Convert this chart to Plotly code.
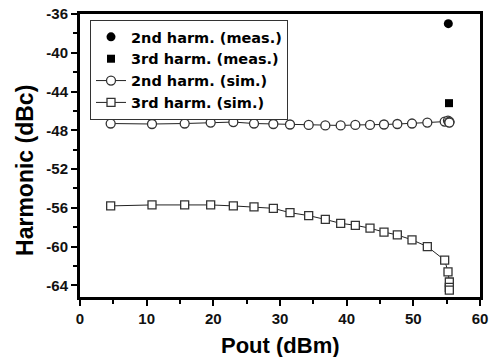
import plotly.graph_objects as go

# Simulated data (Pout in dBm)
x_sim = [4.6, 10.8, 15.7, 19.6, 23.0, 26.1, 29.0, 31.5, 34.3, 36.8, 39.1, 41.3,
         43.5, 45.6, 47.6, 49.8, 52.1, 54.7, 55.2, 55.4, 55.4, 55.4]
h2_sim = [-47.3, -47.35, -47.3, -47.2, -47.15, -47.3, -47.35, -47.4, -47.45, -47.5, -47.5, -47.45,
          -47.45, -47.4, -47.35, -47.3, -47.2, -47.1, -47.0, -47.1, -47.15, -47.2]
h3_sim = [-55.8, -55.7, -55.7, -55.7, -55.8, -55.9, -56.05, -56.5, -56.8, -57.2, -57.6, -57.8,
          -58.1, -58.5, -58.8, -59.3, -60.0, -61.4, -62.6, -63.65, -64.2, -64.5]

# Measured data
x_meas2 = [55.25]
h2_meas = [-37.0]
x_meas3 = [55.35]
h3_meas = [-45.2]

x_ticks = [0, 10, 20, 30, 40, 50, 60]
y_ticks = [-36, -40, -44, -48, -52, -56, -60, -64]

x_title = "Pout (dBm)"
y_title = "Harmonic (dBc)"

FONT = "Liberation Sans"

fig = go.Figure()
fig.add_trace(go.Scatter(x=x_meas2, y=h2_meas, mode="markers", name="2nd harm. (meas.)",
                         marker=dict(symbol="circle", size=9, color="black")))
fig.add_trace(go.Scatter(x=x_meas3, y=h3_meas, mode="markers", name="3rd harm. (meas.)",
                         marker=dict(symbol="square", size=8, color="black")))
fig.add_trace(go.Scatter(x=x_sim, y=h2_sim, mode="lines+markers", name="2nd harm. (sim.)",
                         line=dict(color="#222222", width=1),
                         marker=dict(symbol="circle", size=9, color="white",
                                     line=dict(color="#333333", width=1.3))))
fig.add_trace(go.Scatter(x=x_sim, y=h3_sim, mode="lines+markers", name="3rd harm. (sim.)",
                         line=dict(color="#222222", width=1),
                         marker=dict(symbol="square", size=8, color="white",
                                     line=dict(color="#333333", width=1.3))))

axis_common = dict(showline=True, linewidth=3, linecolor="black", mirror=True,
                   ticks="outside", ticklen=6, tickwidth=2, tickcolor="black",
                   showgrid=False, zeroline=False, automargin=False,
                   tickfont=dict(family=FONT, size=15, color="#111111", weight="bold"))

fig.update_xaxes(range=[0, 60], tickvals=x_ticks, ticktext=[str(v) for v in x_ticks],
                 minor=dict(tickvals=[5, 15, 25, 35, 45, 55], ticklen=4, tickwidth=2,
                            tickcolor="black", ticks="outside"),
                 **axis_common)
fig.update_yaxes(range=[-65.2, -36], tickvals=y_ticks, ticktext=[str(v) for v in y_ticks],
                 minor=dict(tickvals=[-38, -42, -46, -50, -54, -58, -62], ticklen=4, tickwidth=2,
                            tickcolor="black", ticks="outside"),
                 **axis_common)

fig.add_annotation(text=x_title, xref="paper", yref="paper", x=0.5, y=-0.17,
                   xanchor="center", yanchor="middle", showarrow=False,
                   font=dict(family=FONT, size=22, color="black", weight="bold"))
fig.add_annotation(text=y_title, xref="paper", yref="paper", x=-0.1375, y=0.449,
                   xanchor="center", yanchor="middle", showarrow=False, textangle=-90,
                   font=dict(family=FONT, size=23, color="black", weight="bold"))

fig.update_layout(
    width=497, height=357,
    margin=dict(l=80, r=17, t=14, b=60, autoexpand=False),
    paper_bgcolor="white", plot_bgcolor="white",
    showlegend=True,
    legend=dict(x=0.025, y=0.979, xanchor="left", yanchor="top",
                bordercolor="#333333", borderwidth=1, bgcolor="white",
                font=dict(family="DejaVu Sans", size=14.5, color="black", weight="bold"),
                tracegroupgap=0),
)

fig.write_html("out.html", config={"displayModeBar": False},
               post_script="document.body.style.margin='0px';document.body.style.padding='0px';")
